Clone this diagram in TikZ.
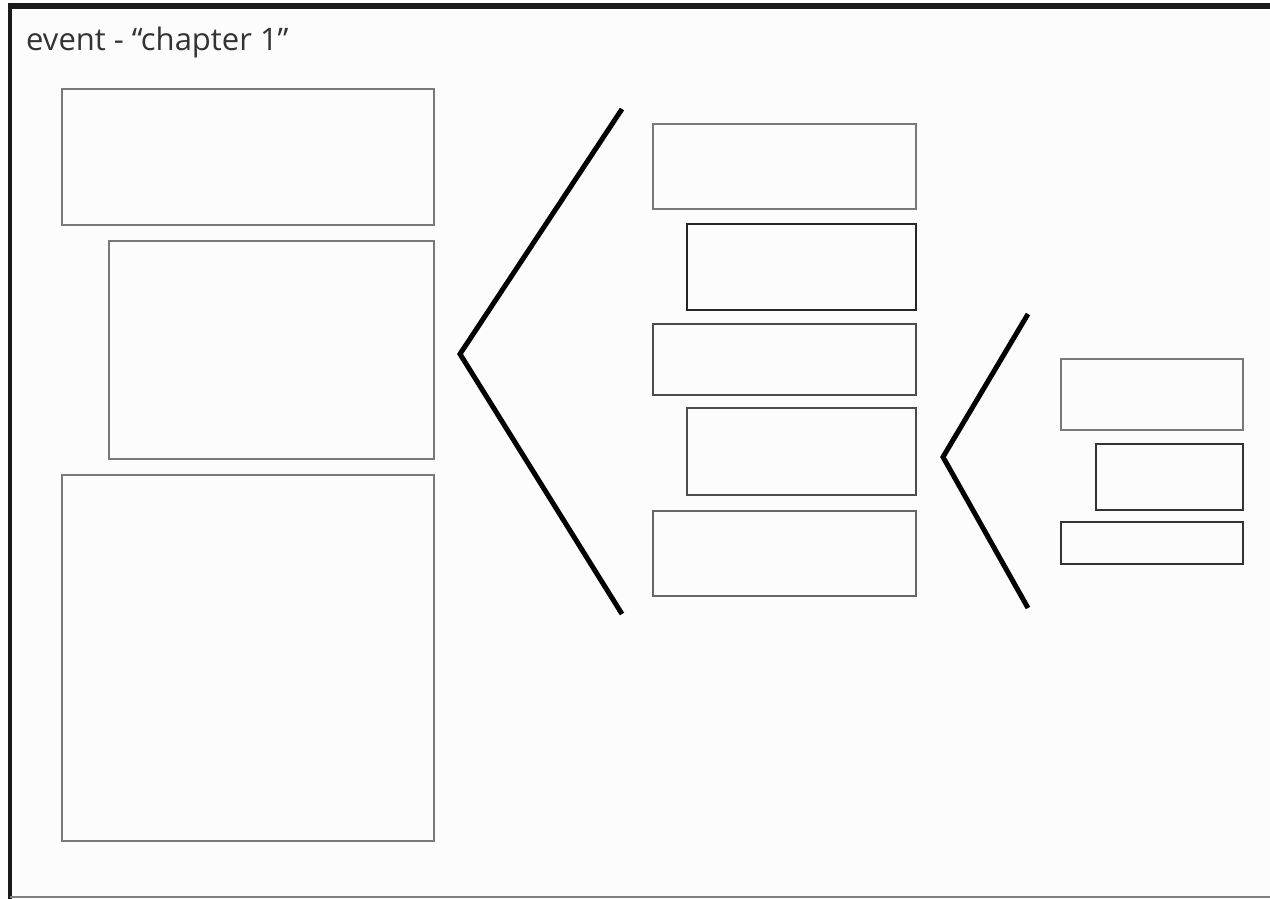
\documentclass[tikz,border=0pt]{standalone}
\usepackage{fontspec}
\setmainfont{Open Sans}
\begin{document}
\begin{tikzpicture}[x=1pt,y=-1pt,
  panel/.style={draw=#1, line width=2.6pt, inner sep=0pt, outer sep=0pt, anchor=north west, fill=none},
  panel/.default={gray!95!black},
  bracket/.style={line width=5pt, line join=miter, line cap=butt, black}]
  \useasboundingbox[fill=white!99!black] (0,0) rectangle (1270,899);
  % page frame
  \draw[line width=6pt, black!90] (8,6) -- (1270,6);
  \draw[line width=4pt, black!90] (10,3) -- (10,899);
  \draw[line width=2pt, gray] (10,897) -- (1270,897);
  % title
  \node[anchor=base west, inner sep=0pt, text=black!80, font=\fontsize{31}{36}\selectfont] (title) at (26,51) {event - “chapter 1”};
  % first level
  \node[panel, minimum width=372, minimum height=136] (a) at (62,89) {};
  \node[panel, minimum width=325, minimum height=218] (b) at (109,241) {};
  \node[panel, minimum width=372, minimum height=366] (c) at (62,475) {};
  % first bracket
  \coordinate (p1) at (622,109);
  \coordinate (v1) at (460,354);
  \coordinate (q1) at (622,614);
  \draw[bracket] (p1) -- (v1) -- (q1);
  % second level
  \node[panel, minimum width=263, minimum height=85] (d) at (653,124) {};
  \node[panel=black!85, minimum width=229, minimum height=86] (e) at (687,224) {};
  \node[panel=black!70, minimum width=263, minimum height=71] (f) at (653,324) {};
  \node[panel=black!70, minimum width=229, minimum height=87] (g) at (687,408) {};
  \node[panel=black!60, minimum width=263, minimum height=85] (h) at (653,511) {};
  % second bracket
  \coordinate (p2) at (1028,314);
  \coordinate (v2) at (943,457);
  \coordinate (q2) at (1028,608);
  \draw[bracket] (p2) -- (v2) -- (q2);
  % third level
  \node[panel, minimum width=182, minimum height=71] (i) at (1061,359) {};
  \node[panel=black!80, minimum width=147, minimum height=66] (j) at (1096,444) {};
  \node[panel=black!80, minimum width=182, minimum height=42] (k) at (1061,522) {};
\end{tikzpicture}
\end{document}
